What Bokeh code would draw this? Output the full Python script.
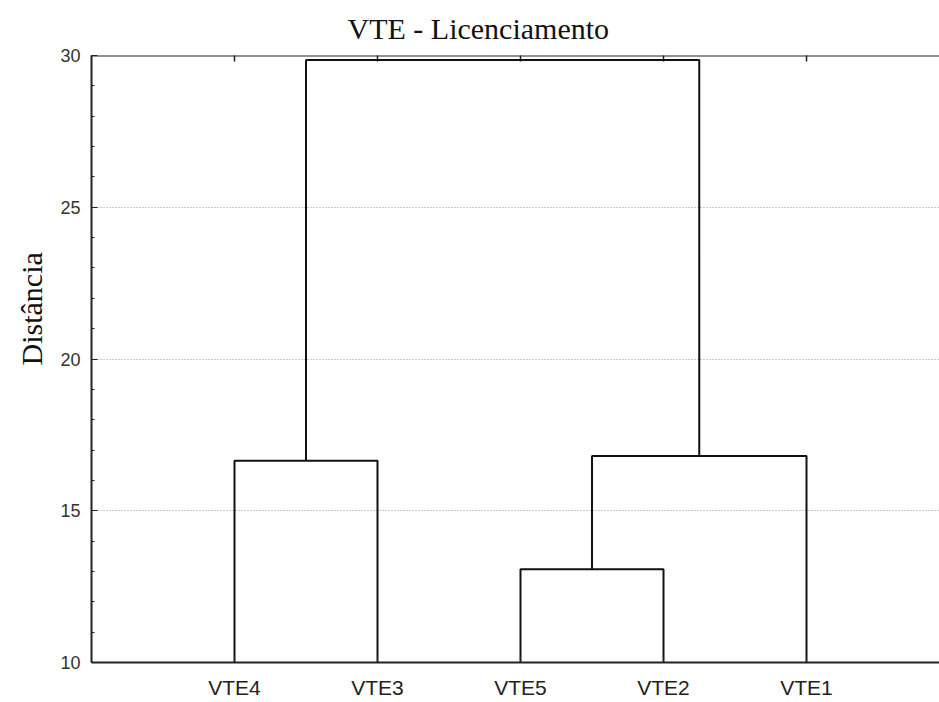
import math
from bokeh.plotting import figure
from bokeh.models import Range1d, FixedTicker, Title, Span
from bokeh.embed import file_html
from bokeh.resources import INLINE

title_text = "VTE - Licenciamento"
y_label = "Distância"
leaves = ["VTE4", "VTE3", "VTE5", "VTE2", "VTE1"]
# linkage: each merge joins two clusters (leaf names or earlier merges "M<i>")
merge_left = ["VTE4", "VTE5", "M1", "M0"]
merge_right = ["VTE3", "VTE2", "VTE1", "M2"]
merge_height = [16.65, 13.07, 16.8, 29.85]
y_ticks = [10, 15, 20, 25, 30]
y_minor = list(range(10, 31))
y_min, y_max = 10, 30

# positions of leaves and merges
pos = {name: i + 1 for i, name in enumerate(leaves)}
hgt = {name: y_min for name in leaves}
xs, ys = [], []
for i, (l, r, h) in enumerate(zip(merge_left, merge_right, merge_height)):
    xl, xr = pos[l], pos[r]
    xs.append([xl, xl, xr, xr])
    ys.append([hgt[l], h, h, hgt[r]])
    pos[f"M{i}"] = (xl + xr) / 2
    hgt[f"M{i}"] = h

leaf_x = [pos[n] for n in leaves]

serif = "Liberation Serif"
sans = "Liberation Sans"

p = figure(width=939, height=702, x_range=Range1d(0, 5.93), y_range=Range1d(y_min, y_max),
           output_backend="svg", toolbar_location=None,
           min_border_left=91, min_border_right=0, min_border_top=55, min_border_bottom=40)
p.outline_line_color = None
p.background_fill_color = "white"
p.border_fill_color = "white"

p.title.text = title_text
p.title.text_font = serif
p.title.text_font_size = "30px"
p.title.text_font_style = "normal"
p.title.text_color = "#111111"
p.title.align = "left"
p.title.vertical_align = "top"
p.title.offset = 256
p.title.standoff = 18

# grid
p.xgrid.visible = False
p.ygrid.grid_line_color = "#999999"
p.ygrid.grid_line_dash = "1 2"
p.ygrid.grid_line_width = 1

# y axis
ya = p.yaxis[0]
ya.ticker = FixedTicker(ticks=y_ticks, minor_ticks=y_minor)
ya.major_tick_in = 6
ya.major_tick_out = 0
ya.minor_tick_in = 3
ya.minor_tick_out = 0
ya.axis_line_width = 2
ya.axis_line_color = "#222222"
ya.major_tick_line_color = "#222222"
ya.minor_tick_line_color = "#222222"
ya.major_label_text_font = sans
ya.major_label_text_font_size = "18px"
ya.major_label_text_color = "#333333"
ya.major_label_standoff = 11

# bottom axis
xa = p.xaxis[0]
xa.ticker = FixedTicker(ticks=leaf_x, minor_ticks=[])
xa.major_label_overrides = {pos[n]: n for n in leaves}
xa.major_tick_in = 6
xa.major_tick_out = 0
xa.minor_tick_line_color = None
xa.axis_line_width = 2
xa.axis_line_color = "#222222"
xa.major_tick_line_color = "#222222"
xa.major_label_text_font = sans
xa.major_label_text_font_size = "21px"
xa.major_label_text_color = "#222222"
xa.major_label_standoff = 13

# top frame line with inward ticks at leaf positions
p.add_layout(Span(location=y_max, dimension="width", line_color="#222222", line_width=2))
p.scatter(x=leaf_x, y=[y_max] * len(leaf_x), marker="dash", angle=math.pi / 2, size=12,
          line_color="#222222", line_width=1.5)

# dendrogram
p.multi_line(xs, ys, line_color="#111111", line_width=2)

# y axis label as a side title
yt = Title(text=y_label, align="left", offset=297, text_font=serif, text_font_size="30px",
           text_font_style="normal", text_color="#111111", standoff=20)
p.add_layout(yt, "left")

open("out.html", "w").write(file_html(p, INLINE))
